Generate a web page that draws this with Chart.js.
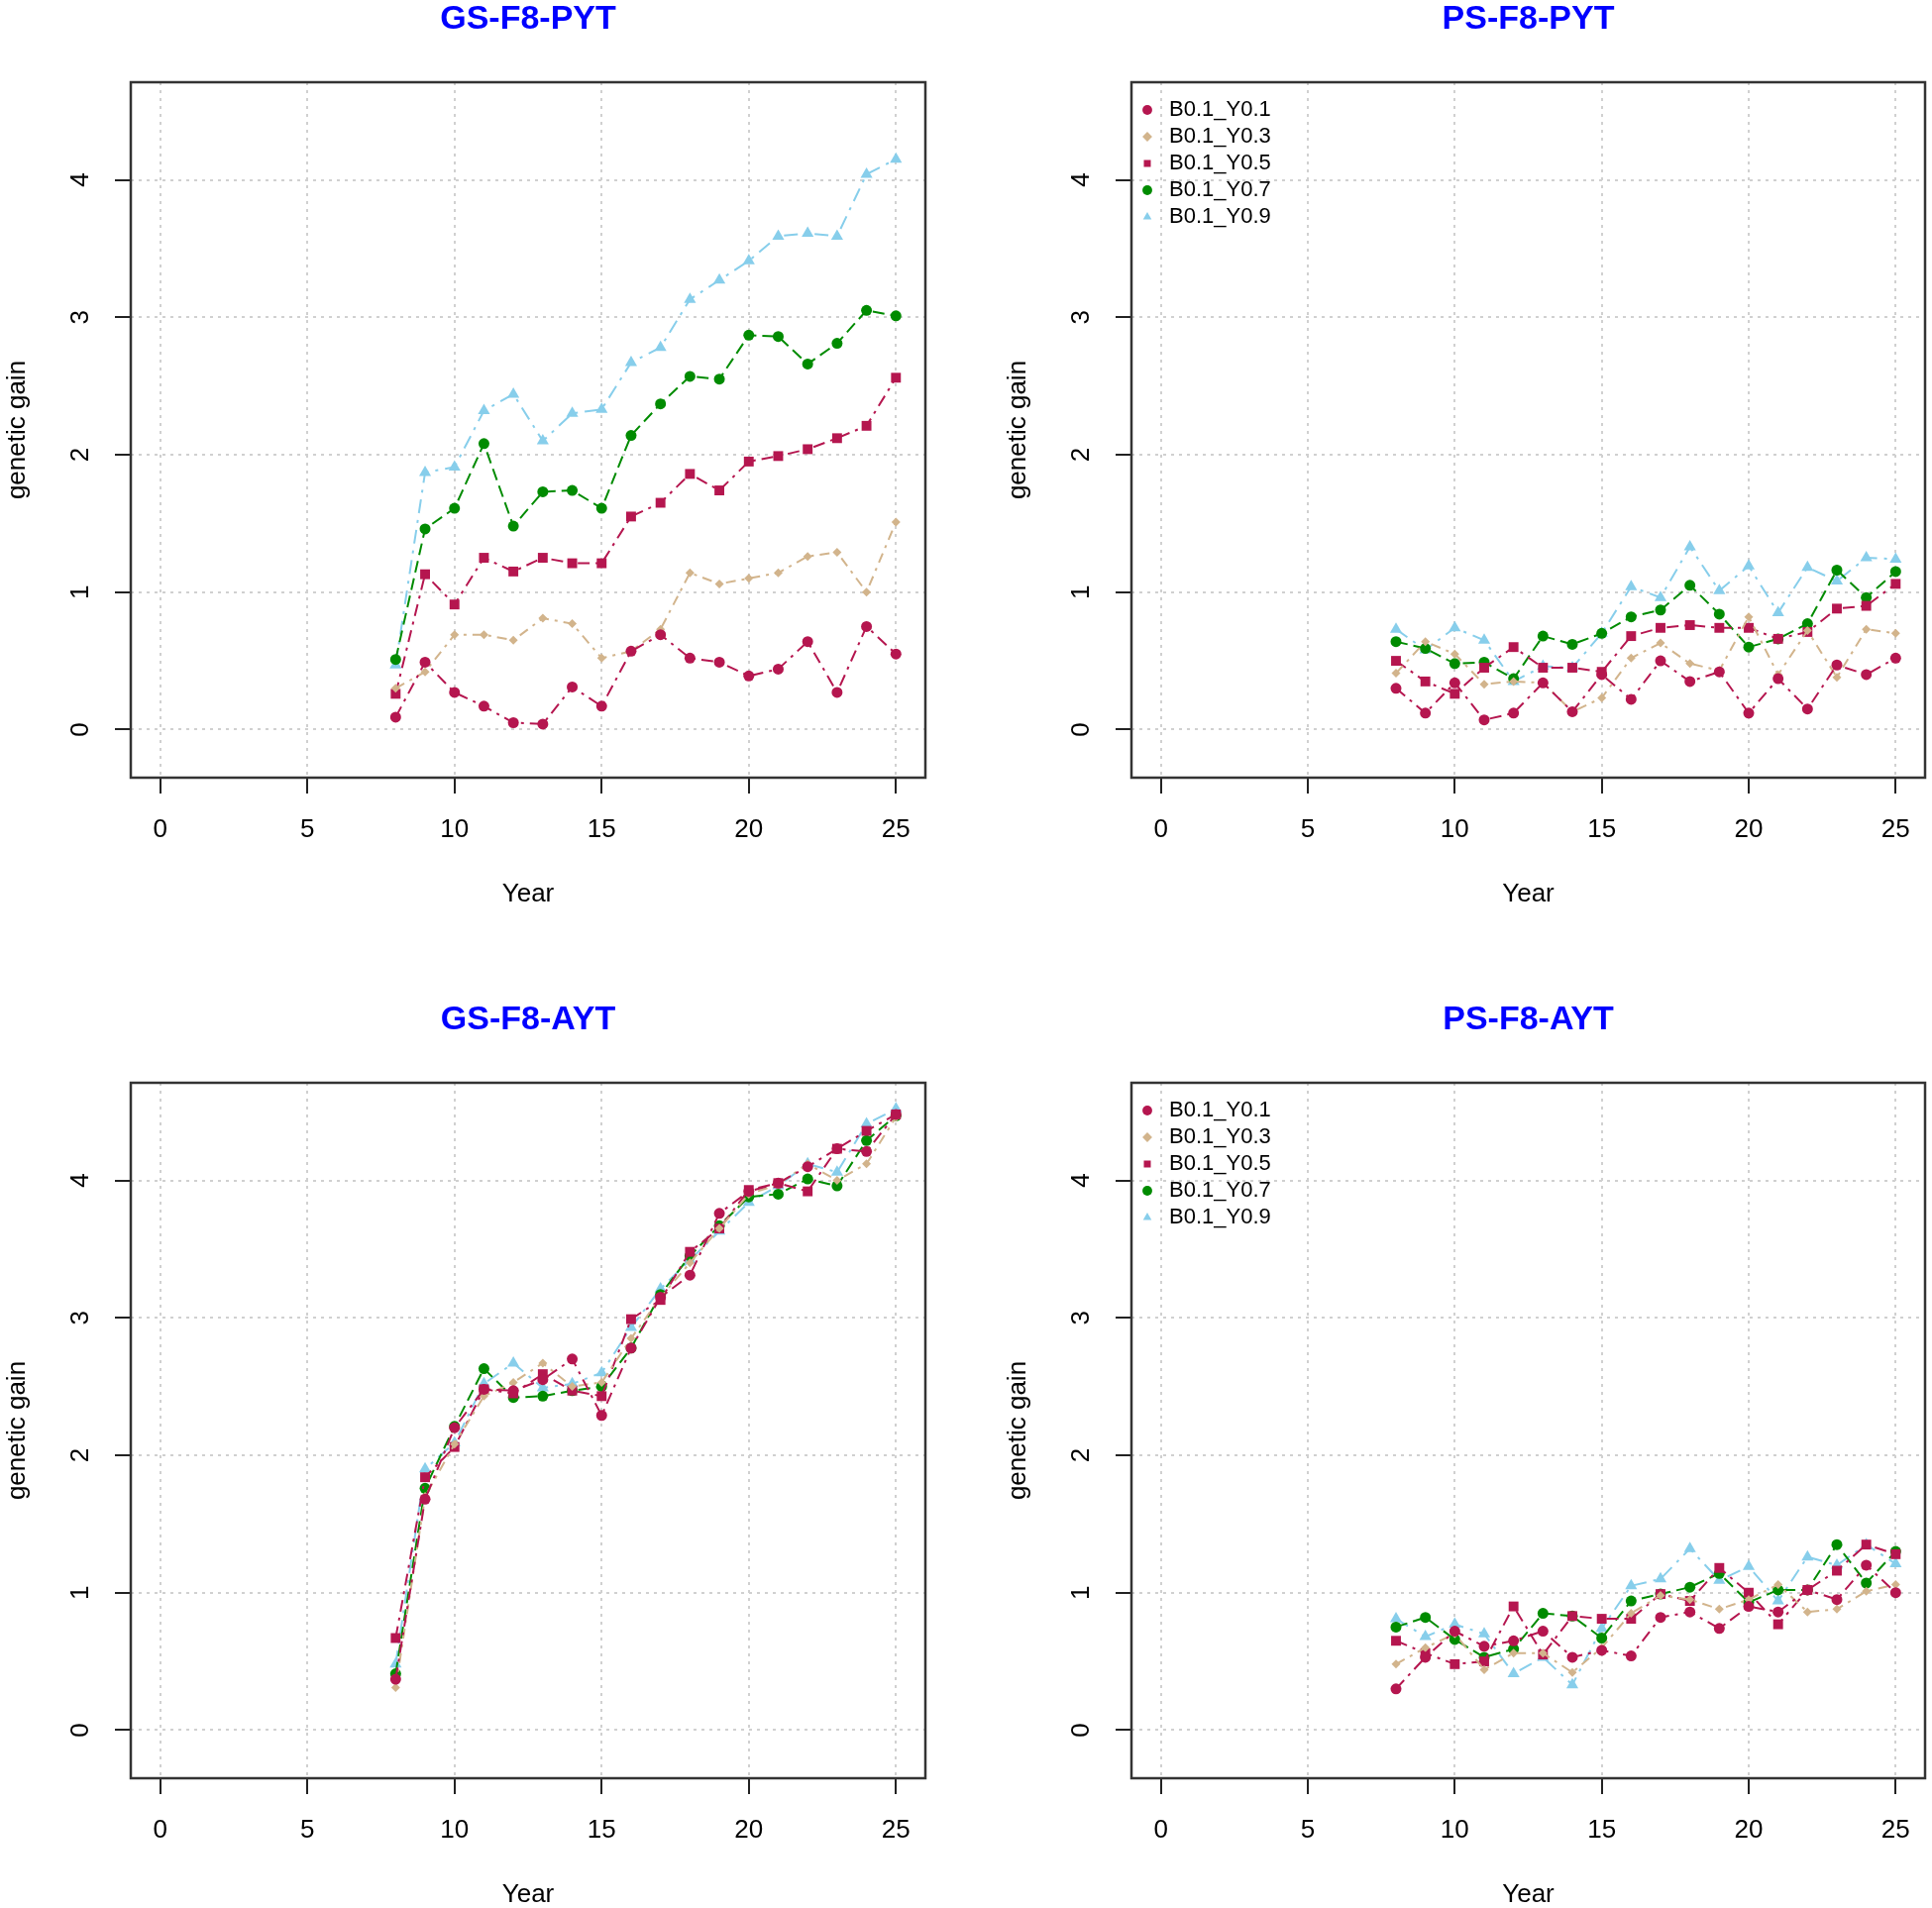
<!DOCTYPE html>
<html>
<head>
<meta charset="utf-8">
<script src="https://cdn.jsdelivr.net/npm/chart.js@4.4.1/dist/chart.umd.min.js"></script>
<style>
html, body { margin: 0; padding: 0; background: #fff; width: 1950px; height: 1926px; overflow: hidden; position: relative; }
canvas { position: absolute; }
</style>
</head>
<body>
<canvas id="gsPyt" width="975" height="916" style="left:0;top:0"></canvas>
<canvas id="psPyt" width="940" height="916" style="left:1010px;top:0"></canvas>
<canvas id="gsAyt" width="975" height="916" style="left:0;top:1010px"></canvas>
<canvas id="psAyt" width="940" height="916" style="left:1010px;top:1010px"></canvas>
<script>
// data
const years = [8, 9, 10, 11, 12, 13, 14, 15, 16, 17, 18, 19, 20, 21, 22, 23, 24, 25];
const seriesNames = ["B0.1_Y0.1", "B0.1_Y0.3", "B0.1_Y0.5", "B0.1_Y0.7", "B0.1_Y0.9"];
const xTicks = [0, 5, 10, 15, 20, 25];
const yTicks = [0, 1, 2, 3, 4];

// GS-F8-PYT
const gsPytY01 = [0.09, 0.49, 0.27, 0.17, 0.05, 0.04, 0.31, 0.17, 0.57, 0.69, 0.52, 0.49, 0.39, 0.44, 0.64, 0.27, 0.75, 0.55];
const gsPytY03 = [0.30, 0.42, 0.69, 0.69, 0.65, 0.81, 0.77, 0.52, 0.57, 0.73, 1.14, 1.06, 1.10, 1.14, 1.26, 1.29, 1.00, 1.51];
const gsPytY05 = [0.26, 1.13, 0.91, 1.25, 1.15, 1.25, 1.21, 1.21, 1.55, 1.65, 1.86, 1.74, 1.95, 1.99, 2.04, 2.12, 2.21, 2.56];
const gsPytY07 = [0.51, 1.46, 1.61, 2.08, 1.48, 1.73, 1.74, 1.61, 2.14, 2.37, 2.57, 2.55, 2.87, 2.86, 2.66, 2.81, 3.05, 3.01];
const gsPytY09 = [0.47, 1.87, 1.91, 2.32, 2.44, 2.10, 2.30, 2.33, 2.67, 2.78, 3.13, 3.27, 3.41, 3.59, 3.61, 3.59, 4.04, 4.15];

// PS-F8-PYT
const psPytY01 = [0.30, 0.12, 0.34, 0.07, 0.12, 0.34, 0.13, 0.40, 0.22, 0.50, 0.35, 0.42, 0.12, 0.37, 0.15, 0.47, 0.40, 0.52];
const psPytY03 = [0.41, 0.64, 0.55, 0.33, 0.35, 0.34, 0.13, 0.23, 0.52, 0.63, 0.48, 0.43, 0.82, 0.40, 0.72, 0.38, 0.73, 0.70];
const psPytY05 = [0.50, 0.35, 0.26, 0.45, 0.60, 0.45, 0.45, 0.42, 0.68, 0.74, 0.76, 0.74, 0.74, 0.66, 0.71, 0.88, 0.90, 1.06];
const psPytY07 = [0.64, 0.59, 0.48, 0.49, 0.37, 0.68, 0.62, 0.70, 0.82, 0.87, 1.05, 0.84, 0.60, 0.66, 0.77, 1.16, 0.96, 1.15];
const psPytY09 = [0.73, 0.58, 0.74, 0.65, 0.35, 0.46, 0.45, 0.70, 1.04, 0.96, 1.33, 1.01, 1.19, 0.85, 1.18, 1.08, 1.25, 1.24];

// GS-F8-AYT
const gsAytY01 = [0.37, 1.68, 2.20, 2.48, 2.47, 2.55, 2.70, 2.29, 2.78, 3.15, 3.31, 3.76, 3.92, 3.98, 4.10, 4.23, 4.21, 4.48];
const gsAytY03 = [0.31, 1.70, 2.08, 2.43, 2.53, 2.67, 2.50, 2.53, 2.85, 3.15, 3.40, 3.65, 3.90, 3.97, 4.12, 4.00, 4.12, 4.46];
const gsAytY05 = [0.67, 1.84, 2.06, 2.48, 2.45, 2.59, 2.47, 2.43, 2.99, 3.13, 3.48, 3.65, 3.93, 3.98, 3.92, 4.23, 4.36, 4.48];
const gsAytY07 = [0.41, 1.76, 2.21, 2.63, 2.42, 2.43, 2.47, 2.50, 2.78, 3.17, 3.45, 3.67, 3.88, 3.90, 4.01, 3.96, 4.29, 4.47];
const gsAytY09 = [0.48, 1.90, 2.09, 2.52, 2.67, 2.49, 2.52, 2.60, 2.93, 3.21, 3.42, 3.63, 3.84, 3.96, 4.12, 4.06, 4.41, 4.52];

// PS-F8-AYT
const psAytY01 = [0.30, 0.53, 0.72, 0.61, 0.65, 0.72, 0.53, 0.58, 0.54, 0.82, 0.86, 0.74, 0.90, 0.86, 1.02, 0.95, 1.20, 1.00];
const psAytY03 = [0.48, 0.60, 0.70, 0.44, 0.56, 0.56, 0.42, 0.60, 0.85, 0.98, 0.95, 0.88, 0.95, 1.06, 0.86, 0.88, 1.01, 1.06];
const psAytY05 = [0.65, 0.56, 0.48, 0.50, 0.90, 0.55, 0.83, 0.81, 0.81, 0.99, 0.94, 1.18, 1.00, 0.77, 1.02, 1.16, 1.35, 1.28];
const psAytY07 = [0.75, 0.82, 0.66, 0.53, 0.59, 0.85, 0.83, 0.67, 0.94, 0.99, 1.04, 1.14, 0.93, 1.02, 1.02, 1.35, 1.07, 1.30];
const psAytY09 = [0.81, 0.68, 0.77, 0.70, 0.41, 0.53, 0.33, 0.74, 1.05, 1.10, 1.32, 1.09, 1.19, 0.94, 1.26, 1.20, 1.35, 1.21];

// styles
const fontFamily = "'Liberation Sans', Arial, Helvetica, sans-serif";
const seriesColors = ["#b5164f", "#d2b48c", "#b5164f", "#008b00", "#87ceeb"];
const seriesPoints = ["circle", "rectRot", "rect", "circle", "triangle"];
const pointSizes = [5.5, 4.5, 7, 5.5, 7];
const seriesDash = [[12, 6, 3, 6], [10, 6, 3, 6], [12, 6, 3, 6], [12, 6], [14, 7, 3, 7]];

// box round the plot region, like R's box()
const framePlugin = {
    id: "frame",
    afterDraw(chart) {
        const { ctx, chartArea: a } = chart;
        ctx.save();
        ctx.strokeStyle = "#333";
        ctx.lineWidth = 2.5;
        ctx.strokeRect(a.left, a.top, a.right - a.left, a.bottom - a.top);
        ctx.restore();
    }
};

function gridOpts() {
    return {
        color: "#d0d0d0",
        lineWidth: 2,
        tickLength: 16,
        tickColor: "#222",
        tickWidth: 2
    };
}

function makeChart(id, title, values, showLegend, padRight) {
    const datasets = values.map((v, i) => ({
        label: seriesNames[i],
        data: years.map((yr, j) => ({ x: yr, y: v[j] })),
        borderColor: seriesColors[i],
        backgroundColor: seriesColors[i],
        pointBackgroundColor: seriesColors[i],
        pointBorderWidth: 0,
        pointStyle: seriesPoints[i],
        pointRadius: pointSizes[i],
        borderWidth: 2,
        borderDash: seriesDash[i],
        tension: 0,
        fill: false
    }));

    return new Chart(document.getElementById(id), {
        type: "line",
        data: { datasets: datasets },
        options: {
            responsive: false,
            animation: false,
            devicePixelRatio: 1,
            layout: { padding: { left: 0, right: padRight, top: 0, bottom: 0 } },
            plugins: {
                title: {
                    display: true,
                    fullSize: false,
                    text: title,
                    color: "#0000ff",
                    font: { family: fontFamily, size: 34, weight: "bold", lineHeight: 1 },
                    padding: { top: 3, bottom: 46 }
                },
                legend: {
                    display: showLegend,
                    position: "chartArea",
                    align: "start",
                    // empty title only used to push the items down
                    title: { display: true, text: "", font: { size: 1, lineHeight: 1 }, padding: { top: 94, bottom: 0 } },
                    labels: {
                        usePointStyle: true,
                        boxWidth: 22,
                        boxHeight: 7,
                        padding: 5,
                        color: "#000",
                        font: { family: fontFamily, size: 22 }
                    }
                },
                tooltip: { enabled: false }
            },
            scales: {
                x: {
                    type: "linear",
                    min: -1,
                    max: 26,
                    afterBuildTicks: s => { s.ticks = xTicks.map(v => ({ value: v })); },
                    afterFit: s => { s.height = 131; },
                    grid: gridOpts(),
                    border: { display: false, dash: [3, 5] },
                    ticks: { color: "#000", font: { family: fontFamily, size: 26 }, padding: 21, maxRotation: 0 },
                    title: { display: true, text: "Year", color: "#000", font: { family: fontFamily, size: 26, lineHeight: 1 }, padding: { top: 0, bottom: 0 } }
                },
                y: {
                    type: "linear",
                    min: -0.35,
                    max: 4.71,
                    afterBuildTicks: s => { s.ticks = yTicks.map(v => ({ value: v })); },
                    afterFit: s => { s.width = 132; },
                    grid: gridOpts(),
                    border: { display: false, dash: [3, 5] },
                    ticks: { color: "#000", font: { family: fontFamily, size: 26 }, padding: 27, minRotation: 90, maxRotation: 90, crossAlign: "center" },
                    title: { display: true, text: "genetic gain", color: "#000", font: { family: fontFamily, size: 26 }, padding: { top: 2, bottom: 0 } }
                }
            }
        },
        plugins: [framePlugin]
    });
}

makeChart("gsPyt", "GS-F8-PYT", [gsPytY01, gsPytY03, gsPytY05, gsPytY07, gsPytY09], false, 41);
makeChart("psPyt", "PS-F8-PYT", [psPytY01, psPytY03, psPytY05, psPytY07, psPytY09], true, 6);
makeChart("gsAyt", "GS-F8-AYT", [gsAytY01, gsAytY03, gsAytY05, gsAytY07, gsAytY09], false, 41);
makeChart("psAyt", "PS-F8-AYT", [psAytY01, psAytY03, psAytY05, psAytY07, psAytY09], true, 6);
</script>
</body>
</html>
